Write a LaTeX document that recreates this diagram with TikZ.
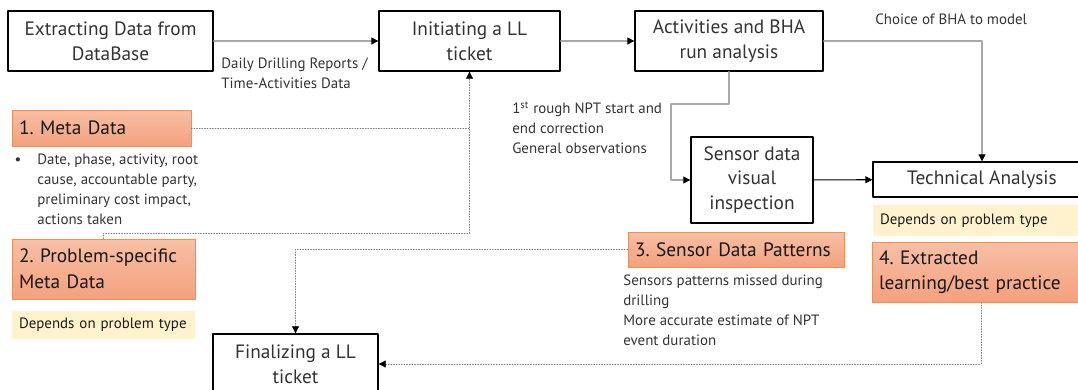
\documentclass[tikz,border=0pt]{standalone}
\usepackage{fontspec}
\setmainfont{PT Sans}
\usetikzlibrary{arrows.meta}
\definecolor{aaaaaa}{rgb}{0.66,0.66,0.66}
\definecolor{tttttt}{rgb}{0.2,0.2,0.2}
\definecolor{kkkkkk}{rgb}{0.1,0.1,0.1}
\definecolor{ffccaa}{rgb}{0.97,0.75,0.65}
\definecolor{ffaa88}{rgb}{0.955,0.63,0.49}
\definecolor{ff9966}{rgb}{0.94,0.56,0.33}
\definecolor{fff2cc}{rgb}{1,0.95,0.8}
\hyphenpenalty=10000

\begin{document}
\frenchspacing
\begin{tikzpicture}[line cap=round,line join=round,>={Triangle[length=4pt,width=4pt,black]},x=0.02cm,y=-0.02cm,
    stepbox/.style={draw=black,line width=0.8pt,fill=white,align=center,text=tttttt,inner sep=0pt,font=\fontsize{11}{14.2}\selectfont},
    numbox/.style={draw=ff9966,line width=0.4pt,top color=ffccaa,bottom color=ffaa88,align=left,text=kkkkkk,inner xsep=0.14cm,inner ysep=0pt,font=\fontsize{11}{14.6}\selectfont},
    notebox/.style={fill=fff2cc,align=left,text=kkkkkk,inner xsep=0.14cm,inner ysep=0pt,font=\fontsize{8.5}{11.3}\selectfont},
    smalltext/.style={align=left,text=tttttt,inner sep=0pt,font=\fontsize{8.5}{11.3}\selectfont},
    flow/.style={draw=aaaaaa,line width=0.6pt},
    dotflow/.style={draw=gray,line width=0.5pt,densely dotted}]
        \useasboundingbox (0,0) rectangle (1078,389);
        \clip (0,0) rectangle (1078,389);
        % main steps
        \node[stepbox,minimum width=4.1cm,minimum height=1.2cm] (ext) at (110.5,41) {Extracting Data from\\DataBase};
        \node[stepbox,minimum width=3.62cm,minimum height=1.2cm] (init) at (469.5,41) {Initiating a LL\\ticket};
        \node[stepbox,minimum width=3.76cm,minimum height=1.2cm] (act) at (729,41) {Activities and BHA\\run analysis};
        \node[stepbox,minimum width=2.44cm,minimum height=1.72cm] (sens) at (752,180) {Sensor data\\visual\\inspection};
        \node[stepbox,minimum width=4.36cm,minimum height=0.7cm] (tech) at (982,179.5) {Technical Analysis};
        \node[stepbox,minimum width=3.3cm,minimum height=1.2cm] (fin) at (295.5,364) {Finalizing a LL\\ticket};
        % numbered outputs
        \node[numbox,text width=3.30cm,minimum height=0.72cm] (meta) at (101.5,128) {1. Meta Data};
        \node[numbox,text width=3.38cm,minimum height=1.2cm] (prob) at (103.5,269) {2. Problem-specific\\Meta Data};
        \node[numbox,text width=4.04cm,minimum height=0.7cm] (pat) at (736,249.5) {3. Sensor Data Patterns};
        \node[numbox,text width=4.08cm,minimum height=1.2cm] (extr) at (981,272) {4. Extracted\\learning/best practice};
        \node[notebox,text width=3.38cm,minimum height=0.56cm] (dep1) at (103.5,325) {Depends on problem type};
        \node[notebox,text width=4.06cm,minimum height=0.62cm] (dep2) at (981.5,220.5) {Depends on problem type};
        % notes
        \node[smalltext,anchor=north west] (ddr) at (221,58) {Daily Drilling Reports /\\Time-Activities Data};
        \node[smalltext,anchor=north west] (metalist) at (37,154) {\llap{\textbullet\hspace{0.32cm}}Date, phase, activity, root\\cause, accountable party,\\preliminary cost impact,\\actions taken};
        \node[smalltext,anchor=north west] (npt) at (512,102) {1\textsuperscript{st} rough NPT start and\\end correction\\General observations};
        \node[smalltext,anchor=west] (bha) at (875,19) {Choice of BHA to model};
        \node[smalltext,anchor=north west] (miss) at (623,275) {Sensors patterns missed during\\drilling\\More accurate estimate of NPT\\event duration};
        \coordinate (bend) at (671,104);
        \coordinate (j1) at (469.5,233);
        % connectors
        \draw[flow,->] (ext) -- (init);
        \draw[flow,->] (init) -- (act);
        \draw[flow,->] (act.south) |- (bend) |- (sens.west);
        \draw[flow,->] (act.east) -| (tech.north);
        \draw[line width=0.6pt,->] (sens) -- (tech);
        \draw[dotflow] (meta.east) -- (meta.east -| init.south);
        \draw[dotflow,->] (prob.north) |- (j1) -- (init.south);
        \draw[dotflow,->] (pat.west) -| (fin.north);
        \draw[dotflow,->] (extr.south) |- (fin.east);
    \end{tikzpicture}
\end{document}
